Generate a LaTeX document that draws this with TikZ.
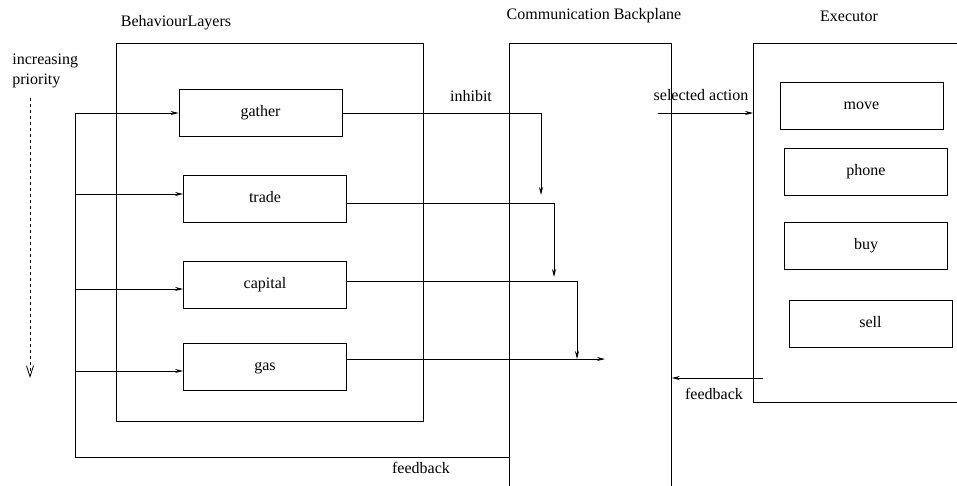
\documentclass[tikz,border=0pt]{standalone}
\usepackage{fontspec}
\setmainfont{LiberationSerif}[Extension=.ttf, UprightFont=*-Regular]
\usetikzlibrary{arrows.meta,positioning,calc}

\begin{document}
\begin{tikzpicture}[
  x=1pt, y=-1pt,
  line width=0.8pt,
  frame/.style={draw, inner sep=0pt, anchor=north west},
  layer/.style={draw, inner sep=0pt, minimum width=163pt, minimum height=47pt, text height=11pt, text depth=3.5pt},
  lbl/.style={inner sep=0pt, font=\fontsize{16}{20}\selectfont},
  arr/.style={-{Stealth[length=8pt,width=4pt]}}
]
  \useasboundingbox (0,0) rectangle (957,485);
  \clip (0,0) rectangle (957,485);
  \tikzset{every node/.append style={font=\fontsize{16}{20}\selectfont}}

  %% Outer frames
  \node[frame, minimum width=307pt, minimum height=378pt] (layers) at (116,43) {};
  \node[frame, minimum width=162pt, minimum height=460pt] (cb)     at (509,43) {};
  \node[frame, minimum width=215pt, minimum height=359pt] (exec)   at (753,43) {};

  \node[lbl] (tlayers) at (176,23) {BehaviourLayers};
  \node[lbl] (tcb)     at (594,16) {Communication Backplane};
  \node[lbl] (texec)   at (849,16) {Executor};

  %% Behaviour layers
  \node[layer] (gather)  at (260.5,113)   {gather};
  \node[layer] (trade)   at (265,198.5)   {trade};
  \node[layer] (capital) at (265,285)     {capital};
  \node[layer] (gas)     at (265,366.5)   {gas};

  %% Executor actions
  \node[layer] (move)  at (861.5,105.5) {move};
  \node[layer] (phone) at (866,171.5)   {phone};
  \node[layer] (buy)   at (866,245.5)   {buy};
  \node[layer] (sell)  at (870.5,323.5) {sell};

  %% Priority
  \node[lbl, align=left, anchor=west] (prio) at (12,71) {increasing\\priority};
  \coordinate (p0) at (30,98);
  \coordinate (p1) at (30,378);
  \draw[dashed, -{Straight Barb[length=11pt,width=7pt]}] (p0) -- (p1);

  %% Feedback into the layers
  \coordinate (fbl) at (75,457);
  \coordinate (tin) at ([yshift=4.5pt]trade.west);
  \coordinate (cin) at ([yshift=-4pt]capital.west);
  \coordinate (gin) at ([yshift=-4.5pt]gas.west);
  \draw[arr] (cb.west |- fbl) -- (fbl) |- (gather.west);
  \draw[arr] (fbl |- tin) -- (tin);
  \draw[arr] (fbl |- cin) -- (cin);
  \draw[arr] (fbl |- gin) -- (gin);
  \node[lbl] (fblbl) at (421,468) {feedback};

  %% Inhibit lines
  \coordinate (g1) at (541,195);
  \coordinate (tout) at ([yshift=-4.5pt]trade.east);
  \coordinate (t1) at (554,277);
  \coordinate (cout) at ([yshift=4pt]capital.east);
  \coordinate (c1) at (577,359);
  \coordinate (sout) at ([yshift=7.5pt]gas.east);
  \coordinate (s1) at (605,359);
  \draw[arr] (gather.east) -| (g1);
  \draw[arr] (tout) -| (t1);
  \draw[arr] (cout) -| (c1);
  \draw[arr] (sout) -- (s1);
  \node[lbl] (inh) at (471,96) {inhibit};

  %% Backplane <-> executor
  \coordinate (sa) at (658,113);
  \draw[arr] (sa) -- (sa -| exec.west);
  \node[lbl] (salbl) at (701,95) {selected action};
  \coordinate (fb) at (763,378);
  \draw[arr] (fb) -- (fb -| cb.east);
  \node[lbl] (fbrlbl) at (714,394) {feedback};
\end{tikzpicture}
\end{document}
